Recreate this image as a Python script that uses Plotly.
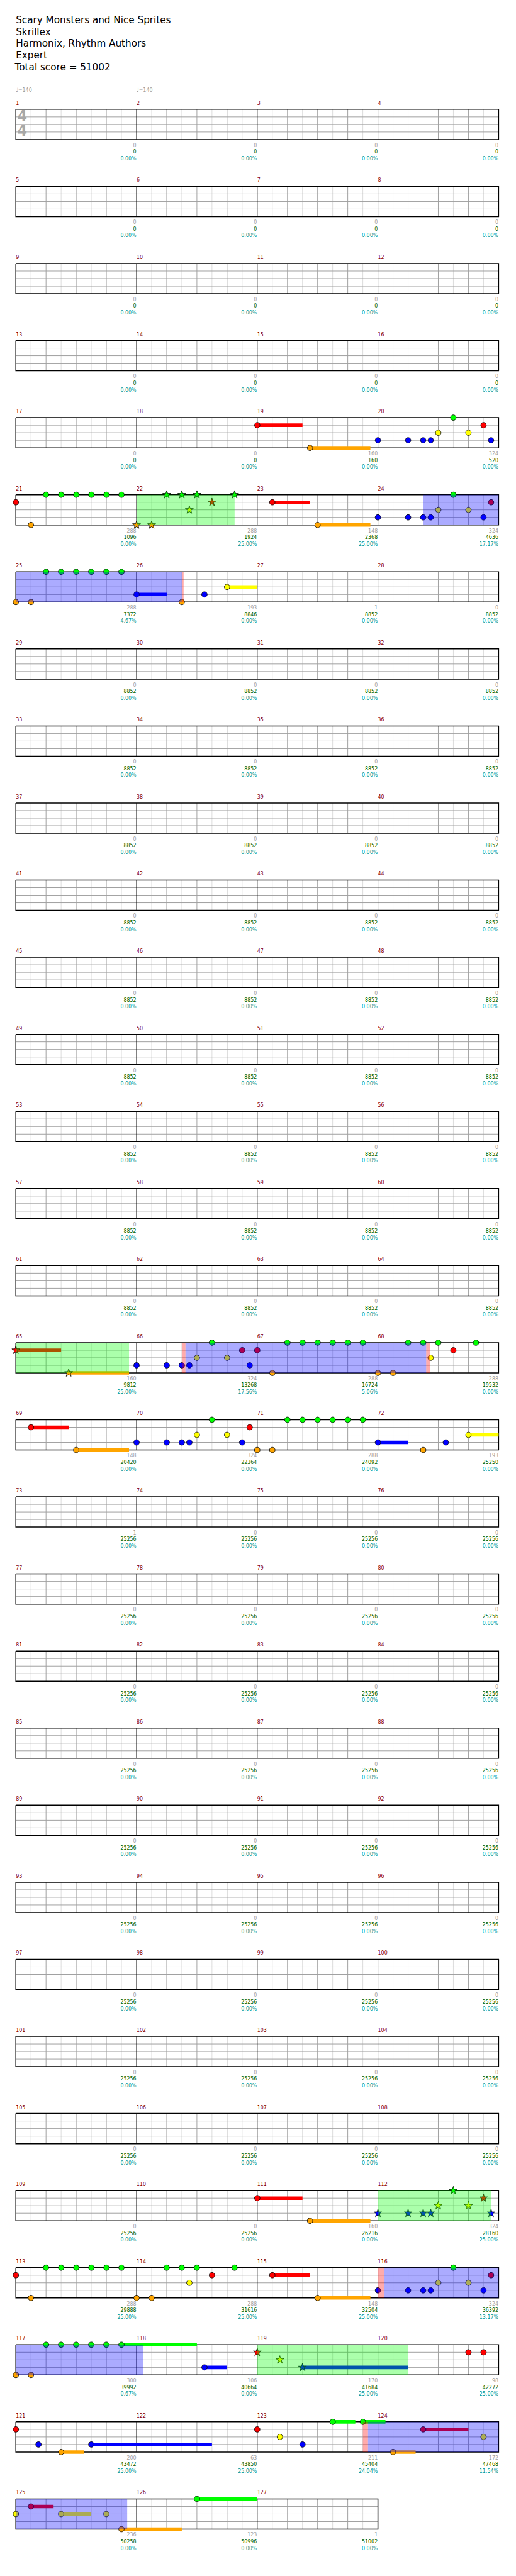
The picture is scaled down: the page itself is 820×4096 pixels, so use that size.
import plotly.graph_objects as go

# ---------------- data ----------------
TITLE_LINES = ["Scary Monsters and Nice Sprites", "Skrillex", "Harmonix, Rhythm Authors", "Expert"]
TOTAL_SCORE = 51002

N_MEASURES = 127
BEATS_PER_MEASURE = 4
MEASURES_PER_ROW = 4
TIME_SIG = ["4", "4"]
TEMPO_MEASURES = [1, 2]
TEMPO_BPM = [140, 140]

# per-measure score / running total / percentage (measures 1..127, 4 per line)
MEASURE_SCORE = [
    0, 0, 0, 0,  0, 0, 0, 0,  0, 0, 0, 0,  0, 0, 0, 0,
    0, 0, 160, 324,
    288, 288, 148, 324,
    288, 193, 1, 0,
    0, 0, 0, 0,  0, 0, 0, 0,  0, 0, 0, 0,  0, 0, 0, 0,  0, 0, 0, 0,
    0, 0, 0, 0,  0, 0, 0, 0,  0, 0, 0, 0,  0, 0, 0, 0,
    160, 324, 288, 288,
    148, 324, 288, 193,
    1, 0, 0, 0,
    0, 0, 0, 0,  0, 0, 0, 0,  0, 0, 0, 0,  0, 0, 0, 0,
    0, 0, 0, 0,  0, 0, 0, 0,  0, 0, 0, 0,  0, 0, 0, 0,
    0, 0, 160, 324,
    288, 288, 148, 324,
    300, 106, 170, 98,
    200, 63, 211, 172,
    236, 123, 1,
]
MEASURE_TOTAL = [
    0, 0, 0, 0,  0, 0, 0, 0,  0, 0, 0, 0,  0, 0, 0, 0,
    0, 0, 160, 520,
    1096, 1924, 2368, 4636,
    7372, 8846, 8852, 8852,
    8852, 8852, 8852, 8852,  8852, 8852, 8852, 8852,  8852, 8852, 8852, 8852,
    8852, 8852, 8852, 8852,  8852, 8852, 8852, 8852,  8852, 8852, 8852, 8852,
    8852, 8852, 8852, 8852,  8852, 8852, 8852, 8852,  8852, 8852, 8852, 8852,
    9812, 13268, 16724, 19532,
    20420, 22364, 24092, 25250,
    25256, 25256, 25256, 25256,  25256, 25256, 25256, 25256,  25256, 25256, 25256, 25256,
    25256, 25256, 25256, 25256,  25256, 25256, 25256, 25256,  25256, 25256, 25256, 25256,
    25256, 25256, 25256, 25256,  25256, 25256, 25256, 25256,  25256, 25256, 25256, 25256,
    25256, 25256, 26216, 28160,
    29888, 31616, 32504, 36392,
    39992, 40664, 41684, 42272,
    43472, 43850, 45404, 47468,
    50258, 50996, 51002,
]
MEASURE_PCT = [
    0, 0, 0, 0,  0, 0, 0, 0,  0, 0, 0, 0,  0, 0, 0, 0,
    0, 0, 0, 0,
    0, 25, 25, 17.17,
    4.67, 0, 0, 0,
    0, 0, 0, 0,  0, 0, 0, 0,  0, 0, 0, 0,  0, 0, 0, 0,  0, 0, 0, 0,
    0, 0, 0, 0,  0, 0, 0, 0,  0, 0, 0, 0,  0, 0, 0, 0,
    25, 17.56, 5.06, 0,
    0, 0, 0, 0,
    0, 0, 0, 0,
    0, 0, 0, 0,  0, 0, 0, 0,  0, 0, 0, 0,  0, 0, 0, 0,
    0, 0, 0, 0,  0, 0, 0, 0,  0, 0, 0, 0,  0, 0, 0, 0,
    0, 0, 0, 25,
    25, 25, 25, 13.17,
    0.67, 0, 25, 25,
    25, 25, 24.04, 11.54,
    0, 0, 0,
]

# notes: absolute beat positions from song start (beat 0 = start of measure 1)
GREEN_NOTES = [78.5, 81, 81.5, 82, 82.5, 83, 83.5, 85, 85.5, 86, 87.25, 94.5,
               97, 97.5, 98, 98.5, 99, 99.5,
               262.5, 265, 265.5, 266, 266.5, 267, 267.5, 269, 269.5, 270, 271.25,
               278.5, 281, 281.5, 282, 282.5, 283, 283.5,
               446.5, 449, 449.5, 450, 450.5, 451, 451.5, 453, 453.5, 454, 455.25, 462.5,
               465, 465.5, 466, 466.5, 467, 467.5, 490.5, 491.5, 502]
RED_NOTES = [72, 79.5, 80, 86.5, 88.5, 95.75, 256, 263.5, 264, 270.5, 272.5, 279.75,
             440, 447.5, 448, 454.5, 456.5, 463.75, 472, 479, 479.5, 480, 488, 493.5, 496.5]
YELLOW_NOTES = [78, 79, 85.75, 94, 95, 103, 262, 263, 269.75, 278, 279, 287,
                446, 447, 453.75, 462, 463, 472.75, 488.75, 495.5, 496, 497.5, 499]
BLUE_NOTES = [76, 77, 77.5, 77.75, 79.75, 92, 93, 93.5, 93.75, 95.5, 100, 102.25,
              260, 261, 261.5, 261.75, 263.75, 276, 277, 277.5, 277.75, 279.5, 284, 286.25,
              444, 445, 445.5, 445.75, 447.75, 460, 461, 461.5, 461.75, 463.5,
              470.25, 473.5, 480.75, 482.5, 489.5]
ORANGE_NOTES = [73.75, 80.5, 84, 84.5, 90, 96, 96.5, 101.5, 257.75, 264.5, 268, 268.5,
                274, 280, 280.5, 285.5, 441.75, 448.5, 452, 452.5, 458, 464, 464.5,
                481.5, 492.5, 499.5]

# sustains: lane, start beat, length in beats
SUSTAIN_LANE = ["R", "O", "R", "O", "B", "Y", "R", "O", "R", "O", "B", "Y",
                "R", "O", "R", "O", "G", "B", "B", "B", "O", "G", "G", "R", "O",
                "R", "Y", "O", "G"]
SUSTAIN_START = [72, 73.75, 88.5, 90, 100, 103, 256, 257.75, 272.5, 274, 284, 287,
                 440, 441.75, 456.5, 458, 467.5, 470.25, 473.5, 482.5, 481.5, 490.5, 491.5, 493.5, 492.5,
                 496.5, 497.5, 499.5, 502]
SUSTAIN_LEN = [1.5, 2, 1.25, 1.75, 1, 1, 1.5, 2, 1.25, 1.75, 1, 1,
               1.5, 2, 1.25, 1.75, 2.5, 0.75, 3.5, 4, 0.75, 0.75, 0.75, 1.5, 0.75,
               0.75, 1, 2, 2]

# star power phrases (green), overdrive activations (blue), activation edges (pink)
SP_START = [84, 256, 444, 472]
SP_END = [87.25, 259.75, 447.75, 477]
OD_START = [93.5, 261.62, 460.2, 491.67]
OD_END = [101.5, 269.6, 468.21, 499.69]
EDGE_START = [101.5, 261.5, 269.6, 460, 491.5]
EDGE_END = [101.56, 261.62, 269.74, 460.2, 491.67]

LANE_ORDER = ["G", "R", "Y", "B", "O"]
LANE_COLOR = {"G": "#00ff00", "R": "#ff0000", "Y": "#ffff00", "B": "#0000ff", "O": "#ffa500"}

# ---------------- geometry (reference pixel units) ----------------
REF_W, REF_H = 1024, 5113
OUT_W, OUT_H = 820, 4096
K = OUT_W / REF_W
STAFF_X0 = 31.5
MEASURE_W = 239.5
BEAT_W = MEASURE_W / BEATS_PER_MEASURE
BEATS_PER_ROW = BEATS_PER_MEASURE * MEASURES_PER_ROW
ROW_Y0 = 217.0
ROW_PITCH = 153.0
LANE_GAP = 15.0
N_ROWS = (N_MEASURES + MEASURES_PER_ROW - 1) // MEASURES_PER_ROW

NARROW = "DejaVu Sans Condensed, DejaVu Sans, sans-serif"


def bx(beat, row):
    return STAFF_X0 + (beat - row * BEATS_PER_ROW) * BEAT_W


def ly(row, lane):
    return ROW_Y0 + row * ROW_PITCH + lane * LANE_GAP


def row_of(beat):
    return int(beat // BEATS_PER_ROW)


def split_rows(a, b):
    segs = []
    while a < b - 1e-9:
        r = row_of(a + 1e-9)
        e = min(b, (r + 1) * BEATS_PER_ROW)
        segs.append((r, a, e))
        a = e
    return segs


fig = go.Figure()

# ---------------- grid ----------------
light = ([], [])
grey = ([], [])
black = ([], [])
border = ([], [])


def seg(store, x0, y0, x1, y1):
    store[0].extend([x0, x1, None])
    store[1].extend([y0, y1, None])


for r in range(N_ROWS):
    nm = min(MEASURES_PER_ROW, N_MEASURES - r * MEASURES_PER_ROW)
    top, bot = ly(r, 0), ly(r, 4)
    rb = r * BEATS_PER_ROW
    for k in range(nm):
        mb = rb + k * BEATS_PER_MEASURE
        for e in range(8):
            x = bx(mb + e * 0.5, r)
            if e == 0:
                if k > 0:
                    seg(black, x, top, x, bot)
            elif e % 2 == 0:
                seg(grey, x, top, x, bot)
            else:
                seg(light, x, top, x, bot)
    x0, x1 = bx(rb, r), bx(rb + nm * BEATS_PER_MEASURE, r)
    for lane in (1, 2, 3):
        seg(grey, x0, ly(r, lane), x1, ly(r, lane))
    border[0].extend([x0, x1, x1, x0, x0, None])
    border[1].extend([top, top, bot, bot, top, None])

for store, col, w in ((light, "#dcdcdc", 1.0), (grey, "#a0a0a0", 1.0),
                      (black, "#000000", 1.0), (border, "#000000", 1.5)):
    fig.add_trace(go.Scatter(x=store[0], y=store[1], mode="lines",
                             line=dict(color=col, width=w), hoverinfo="skip"))

# ---------------- sustains ----------------
for lane in LANE_ORDER:
    xs, ys = [], []
    for ln, s, L in zip(SUSTAIN_LANE, SUSTAIN_START, SUSTAIN_LEN):
        if ln != lane:
            continue
        li = LANE_ORDER.index(lane)
        for r, a, b in split_rows(s, s + L):
            xs.extend([bx(a, r), bx(b, r), None])
            ys.extend([ly(r, li), ly(r, li), None])
    if xs:
        fig.add_trace(go.Scatter(x=xs, y=ys, mode="lines",
                                 line=dict(color=LANE_COLOR[lane], width=7 * K),
                                 hoverinfo="skip"))


# ---------------- notes ----------------
def in_sp(b):
    return any(s - 1e-6 <= b <= e + 1e-6 for s, e in zip(SP_START, SP_END))


for lane, notes in zip(LANE_ORDER, [GREEN_NOTES, RED_NOTES, YELLOW_NOTES, BLUE_NOTES, ORANGE_NOTES]):
    li = LANE_ORDER.index(lane)
    for star in (False, True):
        sel = [b for b in notes if in_sp(b) == star]
        if not sel:
            continue
        fig.add_trace(go.Scatter(
            x=[bx(b, row_of(b)) for b in sel],
            y=[ly(row_of(b), li) for b in sel],
            mode="markers",
            marker=dict(symbol="star" if star else "circle",
                        size=(12 if star else 11) * K,
                        color=LANE_COLOR[lane],
                        line=dict(color="#000000", width=0.8)),
            hoverinfo="skip"))

# ---------------- region overlays ----------------
shapes = []
for starts, ends, col in ((SP_START, SP_END, "rgba(0,255,0,0.33)"),
                          (OD_START, OD_END, "rgba(0,0,255,0.33)"),
                          (EDGE_START, EDGE_END, "rgba(255,0,0,0.33)")):
    for s, e in zip(starts, ends):
        for r, a, b in split_rows(s, e):
            shapes.append(dict(type="rect", xref="x", yref="y", layer="above",
                               x0=bx(a, r), x1=bx(b, r), y0=ly(r, 0), y1=ly(r, 4),
                               fillcolor=col, line=dict(width=0)))

# ---------------- texts ----------------
mx, my, mt = [], [], []
lx, lyy_g, lyy_t, lyy_p, lt_g, lt_t, lt_p = [], [], [], [], [], [], []
for m in range(1, N_MEASURES + 1):
    r = (m - 1) // MEASURES_PER_ROW
    mb = (m - 1) * BEATS_PER_MEASURE
    mx.append(bx(mb, r))
    my.append(ly(r, 0) - 11.5)
    mt.append(str(m))
    lx.append(bx(mb + BEATS_PER_MEASURE, r) - 0.5)
    lyy_g.append(ly(r, 4) + 12)
    lyy_t.append(ly(r, 4) + 25.2)
    lyy_p.append(ly(r, 4) + 38.5)
    lt_g.append(str(MEASURE_SCORE[m - 1]))
    lt_t.append(str(MEASURE_TOTAL[m - 1]))
    lt_p.append(f"{MEASURE_PCT[m - 1]:.2f}%")

fs_small = 11 * K
fig.add_trace(go.Scatter(x=mx, y=my, text=mt, mode="text", textposition="middle right",
                         textfont=dict(family=NARROW, size=fs_small, color="#8b0000"),
                         hoverinfo="skip", cliponaxis=False))
for ys, ts, col in ((lyy_g, lt_g, "#a0a0a0"), (lyy_t, lt_t, "#006400"), (lyy_p, lt_p, "#009a9a")):
    fig.add_trace(go.Scatter(x=lx, y=ys, text=ts, mode="text", textposition="middle left",
                             textfont=dict(family=NARROW, size=fs_small, color=col),
                             hoverinfo="skip", cliponaxis=False))

# tempo markings
fig.add_trace(go.Scatter(
    x=[bx((m - 1) * BEATS_PER_MEASURE, 0) for m in TEMPO_MEASURES],
    y=[ly(0, 0) - 37 for _ in TEMPO_MEASURES],
    text=[f"\u2669={b}" for b in TEMPO_BPM], mode="text", textposition="middle right",
    textfont=dict(family=NARROW, size=fs_small, color="#a0a0a0"),
    hoverinfo="skip", cliponaxis=False))

# time signature
fig.add_trace(go.Scatter(
    x=[STAFF_X0 + 12.5, STAFF_X0 + 12.5], y=[ly(0, 1) + 1, ly(0, 3) + 0.5],
    text=TIME_SIG, mode="text", textposition="middle center",
    textfont=dict(family="DejaVu Sans Condensed, DejaVu Sans", size=31 * K, color="#a8a8a8",
                  weight="bold"),
    hoverinfo="skip", cliponaxis=False))

# header
head_y = [42, 65, 88, 111.5]
fig.add_trace(go.Scatter(
    x=[STAFF_X0] * len(TITLE_LINES), y=head_y, text=TITLE_LINES, mode="text",
    textposition="middle right",
    textfont=dict(family="DejaVu Sans", size=19 * K, color="#000000"),
    hoverinfo="skip", cliponaxis=False))
fig.add_trace(go.Scatter(
    x=[STAFF_X0 - 2], y=[134.5], text=[f"Total score = {TOTAL_SCORE}"], mode="text",
    textposition="middle right",
    textfont=dict(family="DejaVu Sans", size=19 * K, color="#000000"),
    hoverinfo="skip", cliponaxis=False))

fig.update_layout(
    width=OUT_W, height=OUT_H, margin=dict(l=0, r=0, t=0, b=0),
    xaxis=dict(range=[0, REF_W], visible=False, fixedrange=True),
    yaxis=dict(range=[REF_H, 0], visible=False, fixedrange=True),
    plot_bgcolor="white", paper_bgcolor="white",
    showlegend=False, hovermode=False, shapes=shapes,
)
fig.write_html("out.html", config={"displayModeBar": False, "staticPlot": True},
               post_script="document.body.style.margin='0';document.body.style.padding='0';")
